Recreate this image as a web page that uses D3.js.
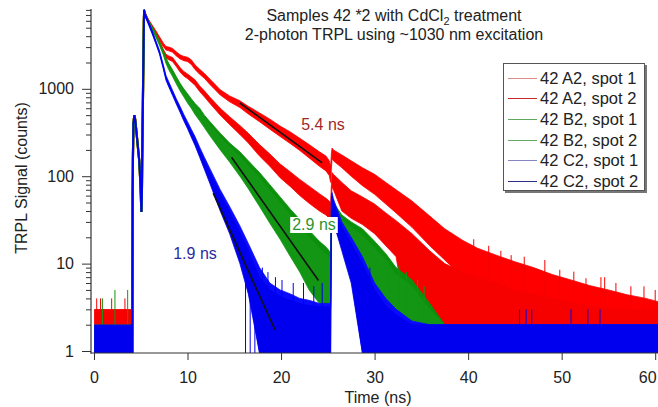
<!DOCTYPE html>
<html><head><meta charset="utf-8">
<script src="https://cdn.jsdelivr.net/npm/d3@7"></script>
<style>body{margin:0;background:#fff}svg{display:block}text{font-family:Arial,"Liberation Sans",sans-serif;fill:#222}</style>
</head><body><svg id="c" width="658" height="407"></svg>
<script>
// ---------------- data ----------------
const seriesNames = ["42 A2, spot 1","42 A2, spot 2","42 B2, spot 1","42 B2, spot 2","42 C2, spot 1","42 C2, spot 2"];
const xTicks = [0,10,20,30,40,50,60];
const yTicks = [1,10,100,1000];

// pre-trigger background (counts) between these times
const baselineTime = [0.03, 4.1];
const baselineCounts = [3, 3, 2, 2, 2, 2];

// laser pre-pulse and rise, common to all traces
const pulseTime   = [4.1,4.13,4.16,4.22,4.31,4.4,4.56,4.7,4.84,4.97,5.07,5.12,5.2,5.27,5.33,5.37];
const pulseCounts = [0,60,160,400,500,450,305,212,150,80,39,65,420,1600,5800,7900];

// decay time grid (ns)
const timeNs = [5.37,5.5,5.8,6.2,6.6,7.0,7.4,7.7,8.0,8.4,8.8,9.2,9.6,10.0,10.4,10.8,11.3,11.8,12.4,13.5,14.5,15.6,16.5,17.7,18.8,19.9,21.0,22.0,23.0,24.1,24.8,25.15,25.3,25.38,25.45,25.6,26.5,27.5,28.7,30.0,31.2,32.3,34.0,35.9,37.5,39.4,41.0,43.0,45.0,47.0,49.0,51.0,53.0,55.0,57.0,59.0,60.6];

// upper / lower edge of each noisy trace (counts, 0 = no counts)
const a2Spot1High = [8100,7400,6300,5400,4650,3950,3350,3050,3000,2900,2650,2450,2350,2300,2150,1880,1670,1500,1290,975,830,730,630,530,450,375,320,272,230,190,170,150,130,180,210,200,175,150,125,105,85,70,52,35,25,18.5,15,12.5,10.5,9,7.5,6.5,5.6,5,4.4,4,3.6];
const a2Spot1Low  = [7600,6800,5800,5000,4300,3650,3050,2780,2720,2620,2380,2200,2100,2050,1900,1660,1470,1320,1120,850,710,610,515,420,345,285,236,197,162,130,115,102,85,120,160,150,125,100,78,62,48,38,26,16,11,7,0,0,0,0,0,0,0,0,0,0,0];
const a2Spot2High = [8000,7300,6200,5200,4350,3550,2850,2480,2380,2280,2000,1750,1580,1480,1370,1270,1080,950,800,600,480,380,310,230,180,138,112,92,77,63,56,52,48,80,110,105,85,68,58,48,38,31,22,14,10,8,7,6,5,4.5,4,3.6,3.3,3.1,3,3,3];
const a2Spot2Low  = [7500,6800,5700,4800,4000,3250,2600,2250,2150,2050,1800,1560,1400,1310,1200,1100,930,810,680,500,390,300,240,170,130,96,76,60,49,40,36,33,30,50,75,70,40,33,28,22,16,12,0,0,0,0,0,0,0,0,0,0,0,0,0,0,0];
const b2Spot1High = [8100,7300,6150,5200,4350,3500,2750,2250,1950,1650,1380,1160,1000,880,770,680,600,500,420,310,240,190,150,110,80,58,42,32,24,18,15.5,14,13,40,55,50,36,30,25,18,13,9,6.5,3.5,2,2,2,2,2,2,2,2,2,2,2,2,2];
const b2Spot1Low  = [7700,6900,5800,4900,4080,3260,2540,2030,1720,1440,1200,1000,860,740,645,555,470,395,320,225,165,115,84,53,35,23,15,10,6.5,4.5,3.8,3.5,3.3,33,36,31,19,10,6,4,0,0,0,0,0,0,0,0,0,0,0,0,0,0,0,0,0];
const b2Spot2High = [7900,7100,6000,5050,4220,3390,2660,2170,1880,1590,1320,1110,955,840,735,645,565,470,390,285,218,170,133,96,69,50,36,27,20,15,13,12,11,36,50,45,32,26,21,15,11,7.5,5.5,3,2,2,2,2,2,2,2,2,2,2,2,2,2];
const b2Spot2Low  = [7500,6700,5650,4750,3950,3150,2450,1950,1650,1380,1140,950,810,690,600,510,430,360,290,200,145,100,72,45,29,19,12,8,5,3.5,3,3,3,30,32,28,16,8,4.5,3,0,0,0,0,0,0,0,0,0,0,0,0,0,0,0,0,0];
const c2Spot1High = [8100,7200,6000,4700,3600,2750,1900,1420,1200,960,770,630,510,420,345,285,215,165,122,70,45,27,17,9,6,5,4.5,4,3.8,3.5,3.5,3.5,3.5,60,65,55,30,20,12,6,4,3,2.2,2,2,2,2,2,2,2,2,2,2,2,2,2,2];
const c2Spot1Low  = [7650,6750,5650,4420,3400,2580,1760,1300,1090,875,700,565,450,368,295,238,176,130,90,45,25,12,5.5,0,0,0,0,0,0,0,0,0,0,33,38,33,16,7,0,0,0,0,0,0,0,0,0,0,0,0,0,0,0,0,0,0,0];
const c2Spot2High = [7950,7050,5850,4580,3500,2660,1830,1360,1140,910,730,595,480,395,322,265,198,150,110,62,39,23,14,7,5,4.2,3.8,3.5,3.3,3.2,3.2,3.2,3.2,55,60,50,26,17,10,5,3.3,2.6,2,2,2,2,2,2,2,2,2,2,2,2,2,2,2];
const c2Spot2Low  = [7500,6600,5500,4300,3300,2500,1700,1250,1050,840,670,540,430,350,280,225,165,120,82,40,22,10,4.5,0,0,0,0,0,0,0,0,0,0,30,35,30,14,6,0,0,0,0,0,0,0,0,0,0,0,0,0,0,0,0,0,0,0];

// isolated single-channel spikes [time ns, counts]
const redSpikes   = [[0.29,4],[0.7,4],[1.89,4],[3.31,4],[40.6,19],[42.2,16],[43.5,14],[44.6,12.5],[46.0,12],[48.2,11],[49.8,8.5],[51.3,8.1],[52.6,6.8],[54.2,7],[54.6,7],[55.8,6],[57.4,5.5],[58.8,5.5],[60.0,5]];
const greenSpikes = [[0.9,4],[2.24,5],[3.6,5],[31.5,11],[32.6,9.5],[33.4,8],[34.6,6.5],[35.3,5.5]];
const blueSpikes  = [[16.2,7],[16.7,5],[17.2,6],[18.0,9],[18.6,8],[19.4,7],[20.1,6.5],[21.3,6],[22.4,6],[23.5,5.5],[24.4,6],[29.5,9],[45.5,3],[46.2,3],[46.8,3],[51.0,3],[52.8,3],[54.1,3]];

// single-exponential fits
const fitLabels      = ["1.9 ns","2.9 ns","5.4 ns"];
const fitStartTime   = [12.75, 14.7, 15.6];
const fitStartCounts = [64, 165, 688];
const fitEndTime     = [19.35, 24.0, 24.4];
const fitEndCounts   = [1.75, 6.4, 142];

// ---------------- styles ----------------
const seriesColors = ["#ff0000","#f70000","#0b900b","#139613","#0a0aff","#0000ee"];
const legendColors = ["#d98c8c","#c22a2a","#5fa85f","#62aa62","#8585bf","#2e2e86"];
const fitLabelColors = ["#2b2ba0","#2e922e","#a02828"];

// ---------------- drawing ----------------
const svg = d3.select("#c");
const x = d3.scaleLinear().domain([-0.32, 60.3]).range([91, 658]);
const y = d3.scaleLog().domain([0.949, 8190]).range([353, 9]).clamp(true);
const yv = v => y(v > 0 ? v : 0.949);

svg.append("defs").append("clipPath").attr("id","plot")
  .append("rect").attr("x",91).attr("y",9).attr("width",567).attr("height",344);
const g = svg.append("g").attr("clip-path","url(#plot)");

const highs = [a2Spot1High,a2Spot2High,b2Spot1High,b2Spot2High,c2Spot1High,c2Spot2High];
const lows  = [a2Spot1Low,a2Spot2Low,b2Spot1Low,b2Spot2Low,c2Spot1Low,c2Spot2Low];

const area = d3.area().x(d => x(d.t)).y0(d => yv(d.lo)).y1(d => yv(d.hi));
const line = d3.line().x(d => x(d.t)).y(d => yv(d.c));
const spikeSets = [redSpikes, greenSpikes, blueSpikes];

seriesNames.forEach((name, i) => {
  const col = seriesColors[i];
  g.append("path")
    .datum(baselineTime.map(t => ({t, lo: 0, hi: baselineCounts[i]})))
    .attr("d", area).attr("fill", col);
  g.append("path")
    .datum(pulseTime.map((t, k) => ({t, c: pulseCounts[k]})))
    .attr("d", line).attr("fill","none").attr("stroke", col).attr("stroke-width", i >= 4 ? 1.6 : 2.2);
  const rows = timeNs.map((t, k) => ({t, lo: lows[i][k], hi: highs[i][k]}));
  g.append("path").datum(rows).attr("d", area)
    .attr("fill", col).attr("stroke", col).attr("stroke-width", 0.8).attr("stroke-linejoin","round");
  if (i % 2 === 1) {
    const sp = spikeSets[(i - 1) / 2];
    g.selectAll(null).data(sp).enter().append("line")
      .attr("x1", d => x(d[0])).attr("x2", d => x(d[0]))
      .attr("y1", yv(0)).attr("y2", d => yv(d[1]))
      .attr("stroke", col).attr("stroke-width", 1);
  }
});

// fit lines
fitLabels.forEach((lab, i) => {
  g.append("line")
    .attr("x1", x(fitStartTime[i])).attr("y1", yv(fitStartCounts[i]))
    .attr("x2", x(fitEndTime[i])).attr("y2", yv(fitEndCounts[i]))
    .attr("stroke", "#111").attr("stroke-width", 1.6);
});

// fit annotations (opaque background)
const labelPos = [[195, 259], [314, 230], [323, 130]];
fitLabels.forEach((lab, i) => {
  const t = svg.append("text").attr("x", labelPos[i][0]).attr("y", labelPos[i][1])
    .attr("text-anchor","middle").style("font-size","16px").style("fill", fitLabelColors[i]).text(lab);
  const bb = t.node().getBBox();
  svg.insert("rect", () => t.node())
    .attr("x", bb.x - 2).attr("y", bb.y + 1).attr("width", bb.width + 4).attr("height", bb.height - 1)
    .attr("fill", "#fff");
});

// axes
const xAxis = d3.axisBottom(x).tickValues(xTicks).tickSize(7).tickSizeOuter(0).tickPadding(12);
const gx = svg.append("g").attr("transform","translate(0,353)").call(xAxis);
gx.select(".domain").remove();
gx.selectAll("text").style("font-size","16px").style("fill","#222")
  .attr("dx", d => d === 60 ? -8 : 0);
gx.selectAll("line").attr("stroke","#333");

const minorTicks = [];
[1,10,100,1000].forEach(d => { for (let m = 2; m <= 9; m++) if (d*m <= 8190) minorTicks.push(d*m); });
const yAxis = d3.axisLeft(y).tickValues(yTicks).tickSize(9).tickSizeOuter(0).tickPadding(8).tickFormat(d3.format("d"));
const gy = svg.append("g").attr("transform","translate(91,0)").call(yAxis);
gy.select(".domain").remove();
gy.selectAll("text").style("font-size","16px").style("fill","#222");
gy.selectAll("line").attr("stroke","#333");
const gyMinor = svg.append("g").attr("transform","translate(91,0)")
  .call(d3.axisLeft(y).tickValues(minorTicks).tickSize(5).tickSizeOuter(0).tickFormat(""));
gyMinor.select(".domain").remove();
gyMinor.selectAll("line").attr("stroke","#333");

svg.append("line").attr("x1",91).attr("x2",91).attr("y1",9).attr("y2",353.5).attr("stroke","#333").attr("stroke-width",1.2);
svg.append("line").attr("x1",90.5).attr("x2",658).attr("y1",353).attr("y2",353).attr("stroke","#333").attr("stroke-width",1.2);

// axis titles
svg.append("text").attr("x", 378).attr("y", 403).attr("text-anchor","middle").style("font-size","16px").text("Time (ns)");
svg.append("text").attr("transform","translate(27,178) rotate(-90)").attr("text-anchor","middle")
  .style("font-size","16px").text("TRPL Signal (counts)");

// title
const t1 = svg.append("text").attr("x", 394).attr("y", 21).attr("text-anchor","middle").style("font-size","16px");
t1.append("tspan").text("Samples 42 *2 with CdCl");
t1.append("tspan").attr("dy", 4).style("font-size","11px").text("2");
t1.append("tspan").attr("dy", -4).text(" treatment");
svg.append("text").attr("x", 394).attr("y", 40).attr("text-anchor","middle").style("font-size","16px")
  .text("2-photon TRPL using ~1030 nm excitation");

// legend
svg.append("rect").attr("x", 505).attr("y", 65).attr("width", 142).attr("height", 128).attr("fill", "#777");
svg.append("rect").attr("x", 503.5).attr("y", 63.5).attr("width", 141).attr("height", 127)
  .attr("fill", "#fff").attr("stroke", "#555").attr("stroke-width", 1);
seriesNames.forEach((name, i) => {
  const cy = Math.round(77.7 + i * 20.66) + 0.5;
  svg.append("line").attr("x1", 508).attr("x2", 537).attr("y1", cy).attr("y2", cy)
    .attr("stroke", legendColors[i]).attr("stroke-width", 1);
  svg.append("text").attr("x", 540).attr("y", cy + 5.5).style("font-size","16.5px").text(name);
});
</script>
</body></html>
